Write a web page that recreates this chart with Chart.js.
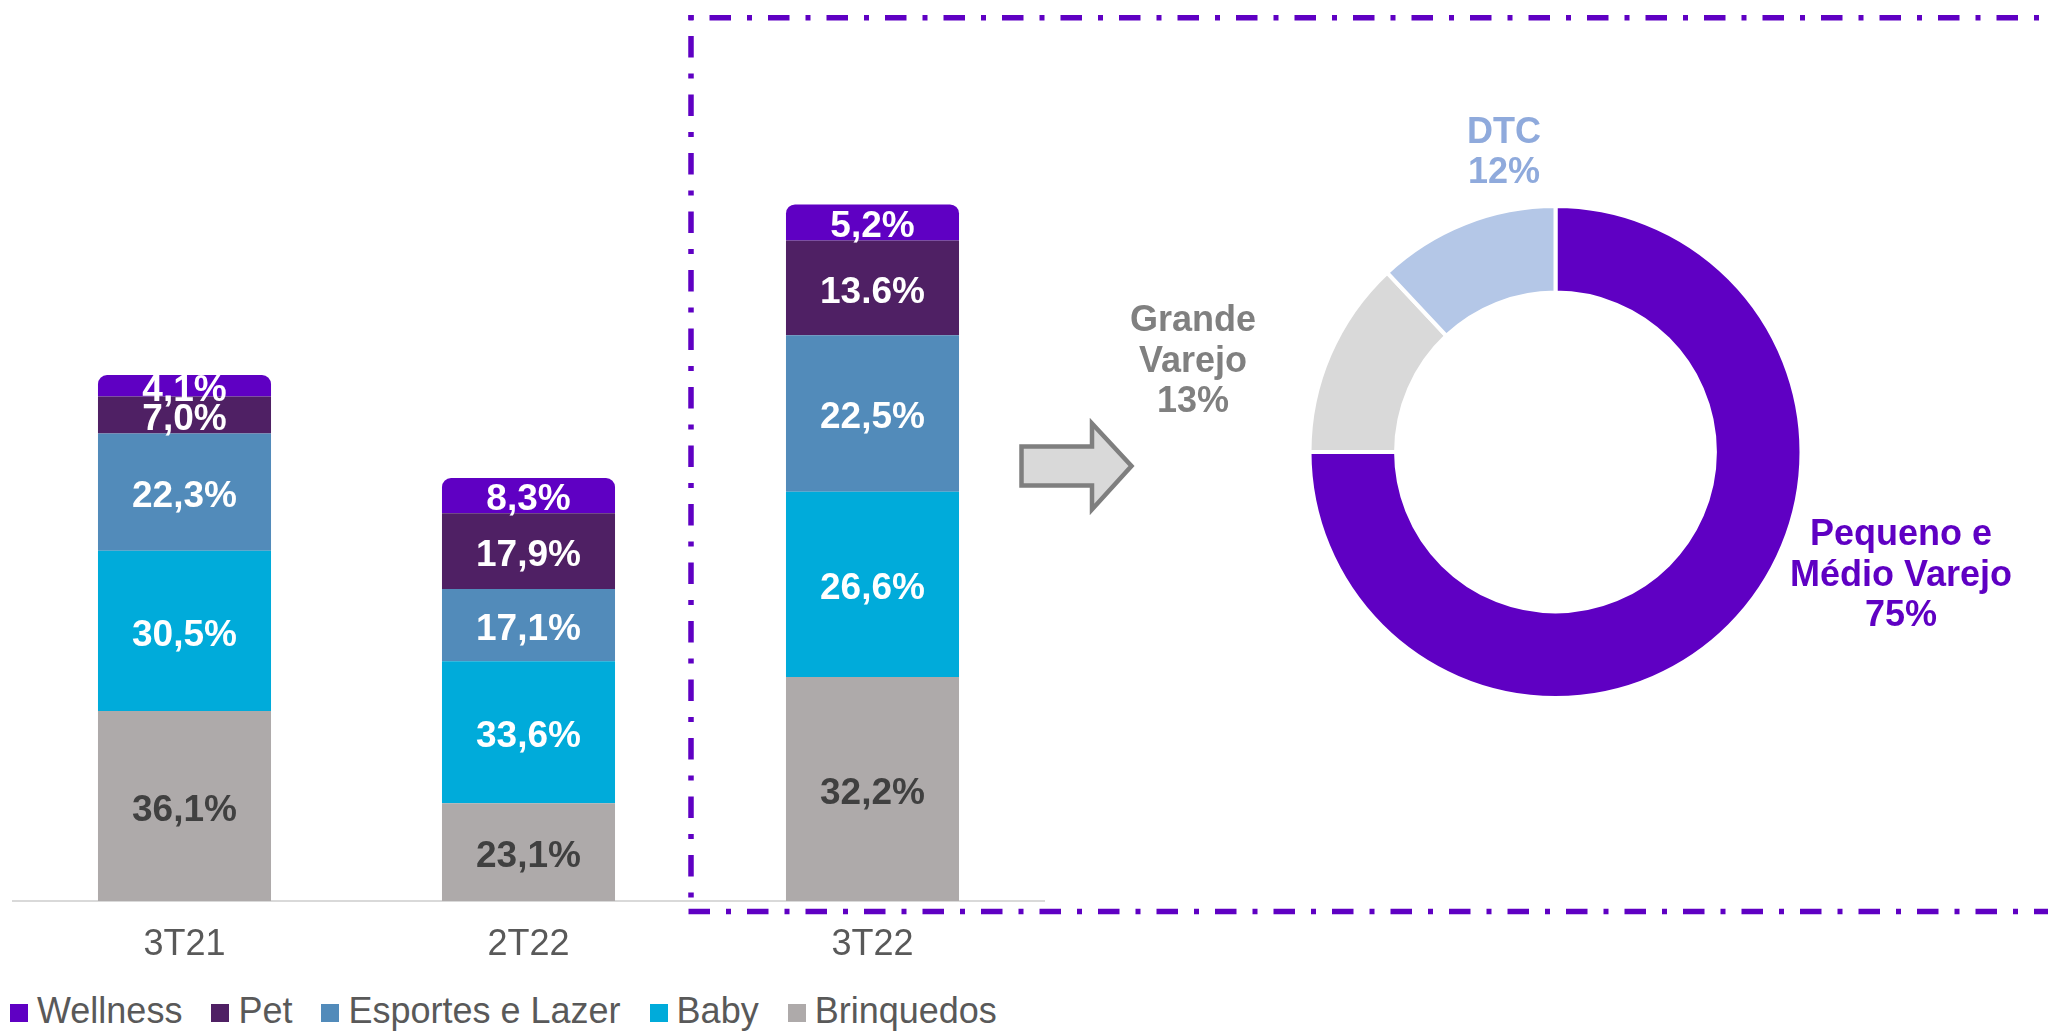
<!DOCTYPE html>
<html lang="pt-BR">
<head>
<meta charset="utf-8">
<title>Mix de receita por categoria e canal</title>
<script src="https://cdn.jsdelivr.net/npm/chart.js@4.4.1/dist/chart.umd.min.js"></script>
<style>
  html, body { margin: 0; padding: 0; background: #fff; }
  body { width: 2048px; height: 1034px; position: relative; overflow: hidden; font-family: 'Liberation Sans', Arial, sans-serif; }
  #barWrap { position: absolute; left: 0; top: 0; width: 2048px; height: 971px; }
  #donutWrap { position: absolute; left: 1080px; top: 0; width: 968px; height: 971px; }
  #legend { position: absolute; left: 10px; top: 993px; display: flex; align-items: center; font-size: 36px; line-height: 36px; color: #595959; white-space: nowrap; }
  #legend .item { display: flex; align-items: center; margin-right: 29px; }
  #legend .box { width: 18px; height: 18px; margin-right: 9px; margin-top: 4px; }
</style>
</head>
<body>
<div id="barWrap"><canvas id="barChart"></canvas></div>
<div id="donutWrap"><canvas id="donutChart"></canvas></div>
<div id="legend"></div>

<script>
/* ---------- data ---------- */
const quarters = ['3T21', '2T22', '3T22'];
// relative size of each quarter's bar (3T21 = 100)
const barTotals = [100, 80.4, 132.3];

// share of each category inside a quarter (%)
const brinquedos = [36.1, 23.1, 32.2];
const baby       = [30.5, 33.6, 26.6];
const esportes   = [22.3, 17.1, 22.5];
const pet        = [7.0, 17.9, 13.6];
const wellness   = [4.1, 8.3, 5.2];

// 3T22 channel mix (%)
const channelNames  = ['Pequeno e Médio Varejo', 'Grande Varejo', 'DTC'];
const channelShares = [75, 13, 12];
const channelLines  = [['Pequeno e', 'Médio Varejo'], ['Grande', 'Varejo'], ['DTC']];

// the source slide writes this one with a dot
const labelOverrides = { 'Pet|3T22': '13.6%' };

/* ---------- styles ---------- */
const FONT = "'Liberation Sans', Arial, sans-serif";
const PURPLE = '#5F00C3';

const series = [
  { name: 'Brinquedos',        shares: brinquedos, color: '#AEAAAA', text: '#404040' },
  { name: 'Baby',              shares: baby,       color: '#00ABDA', text: '#FFFFFF' },
  { name: 'Esportes e Lazer',  shares: esportes,   color: '#528BBA', text: '#FFFFFF' },
  { name: 'Pet',               shares: pet,        color: '#4F2064', text: '#FFFFFF' },
  { name: 'Wellness',          shares: wellness,   color: PURPLE,    text: '#FFFFFF' },
];

const channelColors = [PURPLE, '#D9D9D9', '#B4C7E7'];
const channelTextColors = [PURPLE, '#808080', '#8FAADC'];
// label block placement relative to the doughnut centre (first baseline)
const channelLabelPos = [
  { dx: 345.5, dy: 93 },
  { dx: -362.5, dy: -121 },
  { dx: -51.5, dy: -309.3 },
];

const fmtPct = v => v.toFixed(1).replace('.', ',') + '%';

/* ---------- plugins ---------- */
const segmentLabels = {
  id: 'segmentLabels',
  afterDatasetsDraw(chart) {
    const ctx = chart.ctx;
    const size = 37;
    ctx.save();
    ctx.font = `bold ${size}px ${FONT}`;
    ctx.textAlign = 'center';
    ctx.textBaseline = 'alphabetic';
    chart.data.datasets.forEach((ds, i) => {
      chart.getDatasetMeta(i).data.forEach((bar, j) => {
        const { x, y, base } = bar.getProps(['x', 'y', 'base'], true);
        const key = ds.label + '|' + quarters[j];
        const txt = labelOverrides[key] || fmtPct(ds.shares[j]);
        ctx.fillStyle = ds.textColor;
        ctx.fillText(txt, x, (y + base) / 2 + size * 0.36 + 1.5);
      });
    });
    ctx.restore();
  }
};

const decorations = {
  id: 'decorations',
  afterDraw(chart) {
    const ctx = chart.ctx;
    const line = (x1, y1, x2, y2) => { ctx.beginPath(); ctx.moveTo(x1, y1); ctx.lineTo(x2, y2); ctx.stroke(); };
    ctx.save();
    // dash-dot frame around 3T22 + channel mix
    ctx.strokeStyle = PURPLE;
    ctx.lineWidth = 5.5;
    ctx.lineCap = 'butt';
    ctx.setLineDash([5, 16, 21.5, 16]);
    line(688.5, 17.7, 2060, 17.7);
    line(691, 15, 691, 911.5);
    ctx.setLineDash([21.5, 16, 5, 16]);
    line(688.5, 911.5, 2060, 911.5);

    // block arrow
    ctx.setLineDash([]);
    ctx.beginPath();
    ctx.moveTo(1021.5, 446.5);
    ctx.lineTo(1092, 446.5);
    ctx.lineTo(1092, 423.5);
    ctx.lineTo(1131.5, 466);
    ctx.lineTo(1092, 509.5);
    ctx.lineTo(1092, 485.5);
    ctx.lineTo(1021.5, 485.5);
    ctx.closePath();
    ctx.fillStyle = '#D9D9D9';
    ctx.fill();
    ctx.strokeStyle = '#7F7F7F';
    ctx.lineWidth = 4.5;
    ctx.lineJoin = 'miter';
    ctx.stroke();
    ctx.restore();
  }
};

const sliceLabels = {
  id: 'sliceLabels',
  afterDraw(chart) {
    const ctx = chart.ctx;
    const { x, y } = chart.getDatasetMeta(0).data[0];
    ctx.save();
    ctx.font = `bold 36px ${FONT}`;
    ctx.textAlign = 'center';
    ctx.textBaseline = 'alphabetic';
    channelLabelPos.forEach((p, i) => {
      const lines = [...channelLines[i], channelShares[i] + '%'];
      ctx.fillStyle = channelTextColors[i];
      lines.forEach((t, k) => ctx.fillText(t, x + p.dx, y + p.dy + k * 40.5));
    });
    ctx.restore();
  }
};

/* ---------- stacked bars ---------- */
new Chart(document.getElementById('barChart'), {
  type: 'bar',
  data: {
    labels: quarters,
    datasets: series.map(s => ({
      label: s.name,
      shares: s.shares,
      textColor: s.text,
      data: s.shares.map((v, j) => v * barTotals[j] / 100),
      backgroundColor: s.color,
      borderWidth: 0,
      borderRadius: s.name === 'Wellness' ? { topLeft: 9, topRight: 9 } : 0,
      borderSkipped: 'start',
      barPercentage: 0.503,
      categoryPercentage: 1,
    }))
  },
  options: {
    responsive: true,
    maintainAspectRatio: false,
    animation: false,
    layout: { padding: { left: 12.5, right: 1003.5, top: 0, bottom: 0 } },
    plugins: { legend: { display: false }, tooltip: { enabled: false } },
    scales: {
      x: {
        stacked: true,
        offset: true,
        grid: { display: false, drawTicks: false },
        border: { display: true, color: '#D9D9D9', width: 2 },
        ticks: { color: '#595959', font: { family: FONT, size: 36 }, padding: 22 },
        afterFit(scale) { scale.height = 70; }
      },
      y: { stacked: true, display: false, min: 0, max: 171.3 }
    }
  },
  plugins: [segmentLabels, decorations]
});

/* ---------- channel doughnut ---------- */
new Chart(document.getElementById('donutChart'), {
  type: 'doughnut',
  data: {
    labels: channelNames,
    datasets: [{
      data: channelShares,
      backgroundColor: channelColors,
      borderColor: '#FFFFFF',
      borderWidth: 4,
      hoverOffset: 0,
    }]
  },
  options: {
    responsive: true,
    maintainAspectRatio: false,
    animation: false,
    cutout: '64.8%',
    layout: { padding: { left: 227.5, right: 244.5, top: 204, bottom: 271 } },
    plugins: { legend: { display: false }, tooltip: { enabled: false } }
  },
  plugins: [sliceLabels]
});

/* ---------- legend (top of stack first) ---------- */
const legendEl = document.getElementById('legend');
legendEl.innerHTML = series.slice().reverse().map(s =>
  `<div class="item"><span class="box" style="background:${s.color}"></span>${s.name}</div>`
).join('');
</script>
</body>
</html>
